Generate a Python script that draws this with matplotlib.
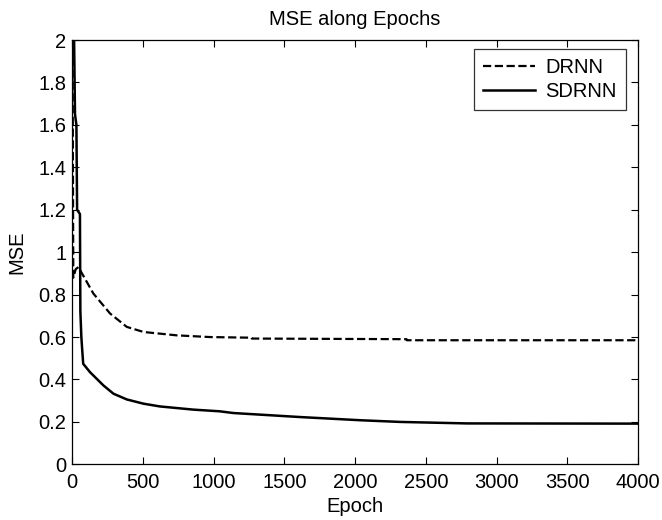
import matplotlib
matplotlib.use("Agg")
import matplotlib.pyplot as plt

plt.rcParams['font.family'] = ['Liberation Sans', 'DejaVu Sans']

# values
drnn_epoch = [0, 8, 25, 45, 61, 150, 268, 386, 504, 740, 975, 1268, 1270, 2363, 2365, 4000]
drnn_mse = [2.5, 0.88, 0.92, 0.93, 0.91, 0.805, 0.711, 0.648, 0.624, 0.608, 0.600, 0.597, 0.593,
            0.590, 0.585, 0.585]

sdrnn_epoch = [0, 12, 20, 30, 35, 55, 58, 65, 70, 78, 127, 221, 292, 386, 504, 620, 856, 1044,
               1138, 1611, 2035, 2318, 2789, 4000]
sdrnn_mse = [3.0, 2.1, 1.65, 1.6, 1.2, 1.18, 0.72, 0.6, 0.55, 0.474, 0.434, 0.372, 0.333, 0.306,
             0.286, 0.273, 0.258, 0.25, 0.242, 0.223, 0.208, 0.2, 0.193, 0.192]

x_ticks = [0, 500, 1000, 1500, 2000, 2500, 3000, 3500, 4000]
y_ticks = [0, 0.2, 0.4, 0.6, 0.8, 1, 1.2, 1.4, 1.6, 1.8, 2]
y_labels = ['0', '0.2', '0.4', '0.6', '0.8', '1', '1.2', '1.4', '1.6', '1.8', '2']

fig = plt.figure(figsize=(6.62, 5.2), dpi=100)
ax = fig.add_axes([0.109, 0.107, 0.855, 0.816])

ax.plot(drnn_epoch, drnn_mse, 'k--', lw=1.6, label='DRNN')
ax.plot(sdrnn_epoch, sdrnn_mse, 'k-', lw=1.8, label='SDRNN')

ax.set_xlim(0, 4000)
ax.set_ylim(0, 2)
ax.set_xticks(x_ticks)
ax.set_yticks(y_ticks)
ax.set_yticklabels(y_labels)
ax.tick_params(direction='in', top=True, right=True, labelsize=14.5, length=5, width=0.8)
ax.tick_params(axis='x', pad=6)
ax.tick_params(axis='y', pad=4)
for s in ax.spines.values():
    s.set_linewidth(0.9)

ax.set_xlabel('Epoch', fontsize=14.5, labelpad=4)
ax.set_ylabel('MSE', fontsize=14.5, labelpad=9)
ax.set_title('MSE along Epochs', fontsize=14.5, pad=11)

leg = ax.legend(loc='upper right', bbox_to_anchor=(0.978, 0.978), borderaxespad=0,
                fontsize=14.5, fancybox=False, edgecolor='black',
                handlelength=2.6, borderpad=0.44, labelspacing=0.25, handletextpad=0.5)
leg.get_frame().set_linewidth(0.9)

fig.savefig('out.png', dpi=100)
